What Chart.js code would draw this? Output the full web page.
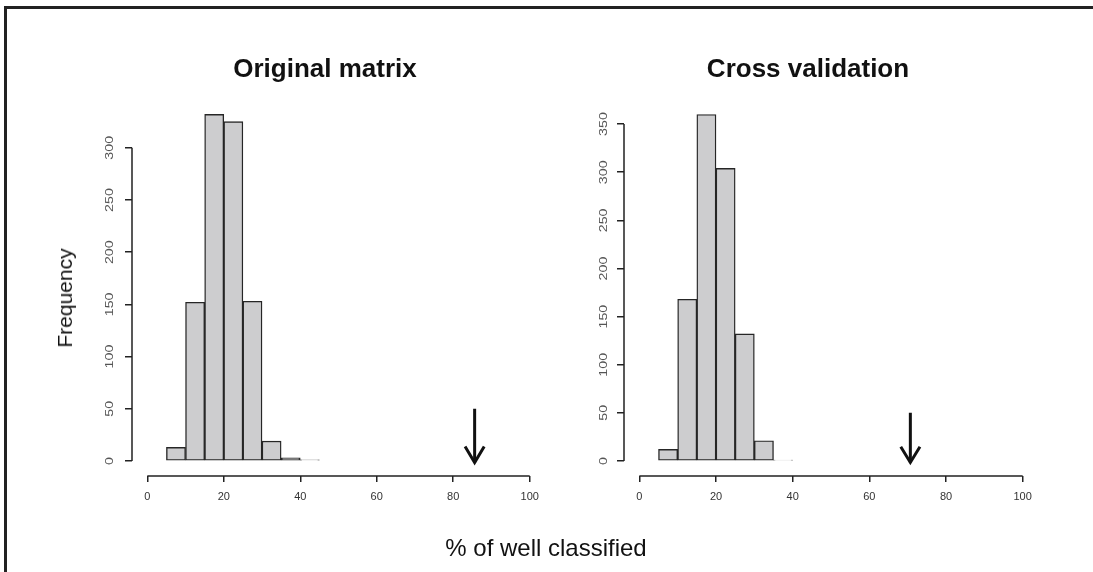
<!DOCTYPE html>
<html>
<head>
<meta charset="utf-8">
<script src="https://cdn.jsdelivr.net/npm/chart.js@4.4.1/dist/chart.umd.min.js"></script>
<style>
  html, body { margin:0; padding:0; background:#fff; }
  body { width:1093px; height:572px; position:relative; overflow:hidden; font-family:"Liberation Sans", Arial, sans-serif; }
  .cv { position:absolute; left:0; top:0; }
  .frame { position:absolute; left:4px; top:6px; right:-10px; bottom:-10px; border-left:3px solid #222; border-top:3px solid #222; }
  .txt { position:absolute; transform:translate(-50%,-50%); white-space:nowrap; color:#111; }
  .title { font-weight:bold; font-size:26px; }
</style>
</head>
<body>
<div class="frame"></div>
<canvas id="c1" class="cv" width="1093" height="572"></canvas>
<canvas id="c2" class="cv" width="1093" height="572"></canvas>
<div class="txt title" style="left:325px; top:68px;">Original matrix</div>
<div class="txt title" style="left:808px; top:68px;">Cross validation</div>
<div class="txt" style="left:65px; top:298px; font-size:21px; transform:translate(-50%,-50%) rotate(-90deg);">Frequency</div>
<div class="txt" style="left:546px; top:548px; font-size:24px;">% of well classified</div>
<script>
// ---- data ----
const binCentersOriginal = [7.5, 12.5, 17.5, 22.5, 27.5, 32.5, 37.5, 42.5];
const countsOriginal     = [13, 152, 332, 325, 153, 19, 3, 1];
const binCentersCross    = [7.5, 12.5, 17.5, 22.5, 27.5, 32.5, 37.5];
const countsCross        = [12, 168, 360, 304, 132, 21, 1];
const xTickValues        = [0, 20, 40, 60, 80, 100];
const yTicksOriginal     = [0, 50, 100, 150, 200, 250, 300];
const yTicksCross        = [0, 50, 100, 150, 200, 250, 300, 350];
const arrowOriginalX     = 85.6;
const arrowCrossX        = 70.7;
const arrowTopY          = 50;

function arrowShaft(x) { return [{x:x, y:arrowTopY}, {x:x, y:-1.5}]; }
function arrowHead(x, dy) { return [{x:x-2.5, y:dy}, {x:x, y:-1.5}, {x:x+2.5, y:dy}]; }

const axisPlugin = {
  id: 'rAxes',
  afterDraw(chart, args, opts) {
    const ctx = chart.ctx, xs = chart.scales.x, ys = chart.scales.y, ca = chart.chartArea;
    ctx.save();
    ctx.strokeStyle = '#222';
    ctx.lineWidth = 1.5;
    ctx.beginPath();
    ctx.moveTo(xs.getPixelForValue(xTickValues[0]), ca.bottom);
    ctx.lineTo(xs.getPixelForValue(xTickValues[xTickValues.length-1]), ca.bottom);
    ctx.moveTo(ca.left, ys.getPixelForValue(opts.yTicks[0]));
    ctx.lineTo(ca.left, ys.getPixelForValue(opts.yTicks[opts.yTicks.length-1]));
    ctx.stroke();
    ctx.fillStyle = '#555';
    ctx.font = '11px "Liberation Sans", Arial, sans-serif';
    ctx.textAlign = 'center';
    ctx.textBaseline = 'middle';
    opts.yTicks.forEach(v => {
      ctx.save();
      ctx.translate(ca.left - opts.labelOffset, ys.getPixelForValue(v));
      ctx.rotate(-Math.PI/2);
      ctx.scale(1.3, 1);
      ctx.fillText(String(v), 0, 0);
      ctx.restore();
    });
    ctx.restore();
  }
};

function makeChart(id, centers, counts, yTicks, yMin, yMax, padLeft, padRight, arrowX, headDy, labelOffset) {
  new Chart(document.getElementById(id), {
    type: 'bar',
    data: {
      datasets: [
        {
          type: 'bar',
          data: centers.map((c, i) => ({x: c, y: counts[i]})),
          backgroundColor: '#cdcdcf',
          borderColor: '#262626',
          borderWidth: 1.4,
          borderSkipped: false,
          barPercentage: 1,
          categoryPercentage: 1
        },
        {
          type: 'line',
          data: arrowShaft(arrowX),
          borderColor: '#111',
          borderWidth: 3,
          pointRadius: 0,
          fill: false
        },
        {
          type: 'line',
          data: arrowHead(arrowX, headDy),
          borderColor: '#111',
          borderWidth: 3,
          pointRadius: 0,
          fill: false,
          borderJoinStyle: 'miter'
        }
      ]
    },
    options: {
      responsive: false,
      animation: false,
      events: [],
      layout: { padding: { left: padLeft, right: padRight, top: 101, bottom: 0 } },
      plugins: { legend: { display: false }, tooltip: { enabled: false }, rAxes: { yTicks: yTicks, labelOffset: labelOffset } },
      scales: {
        x: {
          type: 'linear',
          offset: false,
          min: -4, max: 104,
          afterBuildTicks: s => { s.ticks = xTickValues.map(v => ({value: v})); },
          afterFit: s => { s.height = 96; },
          grid: { offset: false, drawOnChartArea: false, drawTicks: true, tickLength: 6, color: '#222', lineWidth: 1.5 },
          border: { display: false },
          ticks: { color: '#333', font: { size: 11, family: '"Liberation Sans", Arial, sans-serif' }, padding: 8, maxRotation: 0, autoSkip: false }
        },
        y: {
          type: 'linear',
          min: yMin, max: yMax,
          afterBuildTicks: s => { s.ticks = yTicks.map(v => ({value: v})); },
          afterFit: s => { s.width = 40; },
          grid: { drawOnChartArea: false, drawTicks: true, tickLength: 7, color: '#222', lineWidth: 1.5 },
          border: { display: false },
          ticks: { display: false }
        }
      }
    },
    plugins: [axisPlugin]
  });
}

makeChart('c1', binCentersOriginal, countsOriginal, yTicksOriginal, -14.4, 344.8, 92, 548, arrowOriginalX, 13.8, 22);
makeChart('c2', binCentersCross, countsCross, yTicksCross, -15.6, 374, 584, 55, arrowCrossX, 14.8, 20);
</script>
</body>
</html>
